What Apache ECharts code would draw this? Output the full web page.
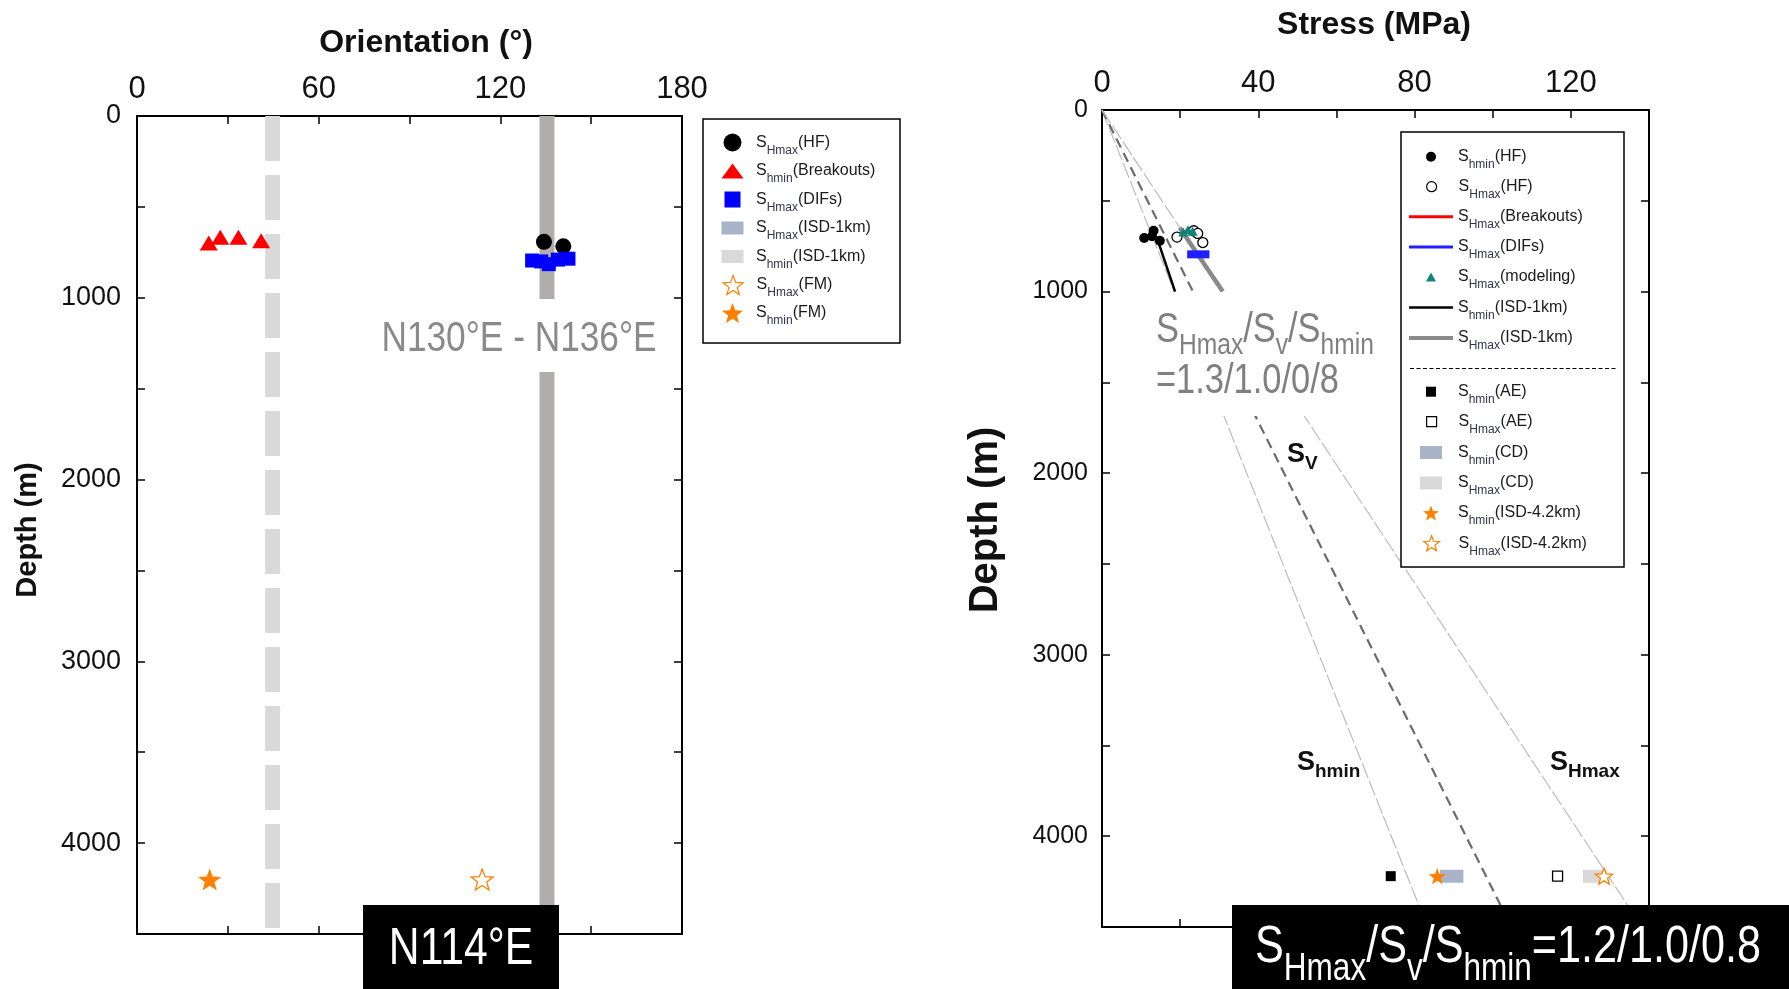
<!DOCTYPE html>
<html>
<head>
<meta charset="utf-8">
<title>Stress orientation and magnitude</title>
<script src="https://cdn.jsdelivr.net/npm/echarts@6/dist/echarts.min.js"></script>
<style>
html,body{margin:0;padding:0;background:#fff;}
#chart{width:1789px;height:989px;}
</style>
</head>
<body>
<div id="chart"></div>
<script>
// ================= DATA =================
// tick labels
const orientationTickLabels = [0, 60, 120, 180];
const stressTickLabels = [0, 40, 80, 120];
const depthTickLabels = [0, 1000, 2000, 3000, 4000];

// Left panel: [orientation (deg), depth (m)]
const oriShmaxHF = [[134.4, 692], [140.8, 717]];
const oriShminBreakouts = [[23.7, 698], [27.5, 667], [33.5, 667], [41.0, 686]];
const oriShmaxDIFs = [[130.5, 795], [133.5, 800], [136.0, 815], [139.0, 790], [142.5, 785]];
const oriShmaxISD1km = [[135.4, 0], [135.4, 4500]];
const oriShminISD1km = [[44.8, 0], [44.8, 4500]];
const oriShmaxFM = [[114.0, 4200]];
const oriShminFM = [[24.0, 4200]];

// Right panel: [stress (MPa), depth (m)]
const strShminHF = [[10.8, 705], [13.2, 665], [14.8, 720], [12.8, 695]];
const strShmaxHF = [[19.2, 700], [23.5, 665], [24.5, 680], [25.8, 730]];
const strShmaxBreakouts = [[18.8, 685], [19.6, 712]];
const strShmaxDIFs = [[21.8, 795], [27.5, 795]];
const strShmaxModeling = [[20.8, 672], [22.0, 660], [23.2, 668]];
const strShminISD1km = [[14.0, 700], [18.7, 1000]];
const strShmaxISD1km = [[19.9, 648], [30.9, 1000]];
const strShminAE = [[73.9, 4220]];
const strShmaxAE = [[116.6, 4220]];
const strShminCD = [[86.5, 4220], [92.5, 4220]];
const strShmaxCD = [[123.1, 4220], [129.1, 4220]];
const strShminISD42 = [[85.8, 4220]];
const strShmaxISD42 = [[128.5, 4220]];
const gradShmin = [[0, 0], [83.3, 4500]];
const gradSv = [[0, 0], [104.8, 4500]];
const gradShmax = [[0, 0], [138.2, 4500]];

// ================= STYLE HELPERS =================
const SANS = "'Liberation Sans', Arial, Helvetica, sans-serif";
const ORANGE = '#ff7f00';
const NARROW_SCALE = 0.82;   // emulate the condensed face of the original annotations

function starPath() {
  let d = '';
  for (let i = 0; i < 10; i++) {
    const a = -Math.PI / 2 + i * Math.PI / 5;
    const r = i % 2 === 0 ? 50 : 21;
    d += (i === 0 ? 'M' : 'L') + (r * Math.cos(a)).toFixed(2) + ',' + (r * Math.sin(a)).toFixed(2);
  }
  return 'path://' + d + 'Z';
}
const STAR = starPath();
const STAR_ASPECT = 1.051;
const TRI_L = 'path://M11,0L22,15L0,15Z';
const TRI_R = 'path://M5,0L10,9L0,9Z';
const SQ = 'path://M0,0L10,0L10,10L0,10Z';
const RECT = 'path://M0,0L22,0L22,13L0,13Z';
function linePath(h) { return 'path://M0,0L44,0L44,' + h + 'L0,' + h + 'Z'; }

function valueAxis(o) {
  return Object.assign({
    type: 'value',
    axisLine: {show: true, onZero: false, lineStyle: {color: '#000', width: 2}},
    axisTick: {show: true, inside: true, length: 8, lineStyle: {color: '#000', width: 1.5}},
    splitLine: {show: false},
    minorTick: {show: false},
    axisPointer: {show: false}
  }, o);
}
function tickLabel(list, size, margin) {
  return {show: true, margin: margin, fontFamily: SANS, fontSize: size, color: '#111',
    showMinLabel: true, showMaxLabel: true,
    formatter: v => list.indexOf(v) >= 0 ? String(v) : ''};
}

function lineS(name, g, data, color, width, dash, z) {
  return {type: 'line', name, xAxisIndex: g * 2, yAxisIndex: g * 2, data, symbol: 'none', showSymbol: false,
    lineStyle: {color, width, type: dash || 'solid', cap: 'butt'}, itemStyle: {color},
    silent: true, z: z || 2, animation: false};
}
function scatterS(name, g, data, symbol, size, color, border, z) {
  return {type: 'scatter', name, xAxisIndex: g * 2, yAxisIndex: g * 2, data, symbol, symbolSize: size,
    symbolKeepAspect: true,
    itemStyle: {color, borderColor: border || color, borderWidth: border ? 1.3 : 0, opacity: 1},
    silent: true, z: z || 3, animation: false};
}

// ================= LEGENDS =================
const legendRich = {
  s: {fontFamily: SANS, fontSize: 16, lineHeight: 22, height: 22, verticalAlign: 'bottom', color: '#1a1a1a'},
  b: {fontFamily: SANS, fontSize: 12, lineHeight: 6, height: 6, verticalAlign: 'bottom', color: '#33334a'}
};
function legendText(name) {
  const m = name.slice(2).match(/^S([A-Za-z]+)(\(.*\))$/);
  return '{s|S}{b|' + m[1] + '}{s|' + m[2] + '}';
}
function makeLegend(it, iconCX, cy, w) {
  return {
    show: true, selectedMode: false, orient: 'vertical', padding: 0,
    left: iconCX - it.visW / 2, top: cy - 11,
    itemWidth: w, itemHeight: it.h, itemGap: 0,
    data: [{name: it.name, icon: it.icon,
      itemStyle: {color: it.color, borderColor: it.border || it.color, borderWidth: it.border ? 1.2 : 0, opacity: 1}}],
    formatter: legendText,
    textStyle: {rich: legendRich}
  };
}
const leftLegendItems = [
  {name: 'L_SHmax(HF)', icon: 'circle', h: 18, visW: 18, color: '#000'},
  {name: 'L_Shmin(Breakouts)', icon: TRI_L, h: 15, visW: 22, color: '#ff0000'},
  {name: 'L_SHmax(DIFs)', icon: SQ, h: 16, visW: 16, color: '#0000ff'},
  {name: 'L_SHmax(ISD-1km)', icon: RECT, h: 13, visW: 22, color: '#a9b4c8'},
  {name: 'L_Shmin(ISD-1km)', icon: RECT, h: 13, visW: 22, color: '#d9d9d9'},
  {name: 'L_SHmax(FM)', icon: STAR, h: 19, visW: 19 * STAR_ASPECT, color: '#fff', border: ORANGE},
  {name: 'L_Shmin(FM)', icon: STAR, h: 20, visW: 20 * STAR_ASPECT, color: ORANGE}
];
const leftLegendY = [142.5, 171, 199.5, 228, 256.5, 285, 313];
const rightLegendItems = [
  {name: 'R_Shmin(HF)', icon: 'circle', h: 10, visW: 10, color: '#000'},
  {name: 'R_SHmax(HF)', icon: 'circle', h: 10, visW: 10, color: '#fff', border: '#000'},
  {name: 'R_SHmax(Breakouts)', icon: linePath(3), h: 3, visW: 44, color: '#ff0000'},
  {name: 'R_SHmax(DIFs)', icon: linePath(3), h: 3, visW: 44, color: '#1f1fff'},
  {name: 'R_SHmax(modeling)', icon: TRI_R, h: 9, visW: 10, color: '#12837b'},
  {name: 'R_Shmin(ISD-1km)', icon: linePath(2.5), h: 2.5, visW: 44, color: '#000'},
  {name: 'R_SHmax(ISD-1km)', icon: linePath(4), h: 4, visW: 44, color: '#8a8a8a'},
  {name: 'R_Shmin(AE)', icon: SQ, h: 10, visW: 10, color: '#000'},
  {name: 'R_SHmax(AE)', icon: SQ, h: 10, visW: 10, color: '#fff', border: '#000'},
  {name: 'R_Shmin(CD)', icon: RECT, h: 13, visW: 22, color: '#a9b4c8'},
  {name: 'R_SHmax(CD)', icon: RECT, h: 13, visW: 22, color: '#d9d9d9'},
  {name: 'R_Shmin(ISD-4.2km)', icon: STAR, h: 15, visW: 15 * STAR_ASPECT, color: ORANGE},
  {name: 'R_SHmax(ISD-4.2km)', icon: STAR, h: 15, visW: 15 * STAR_ASPECT, color: '#fff', border: ORANGE}
];
const rightLegendY = [156.7, 186.7, 216.7, 247, 277, 307.5, 338, 391.7, 421.7, 452.5, 483, 513, 543.3];

const legends = [];
leftLegendItems.forEach((it, i) => legends.push(makeLegend(it, 732.5, leftLegendY[i], 37)));
rightLegendItems.forEach((it, i) => legends.push(makeLegend(it, 1431, rightLegendY[i], 44)));

// ================= SERIES =================
const series = [
  // left panel
  lineS('L_Shmin(ISD-1km)', 0, oriShminISD1km, '#d9d9d9', 15, [45, 14], 1),
  lineS('L_SHmax(ISD-1km)', 0, oriShmaxISD1km, '#b1adad', 15, 'solid', 1),
  scatterS('L_Shmin(Breakouts)', 0, oriShminBreakouts, 'triangle', [18, 15], '#ff0000'),
  scatterS('L_SHmax(HF)', 0, oriShmaxHF, 'circle', 16, '#000'),
  scatterS('L_SHmax(DIFs)', 0, oriShmaxDIFs, 'rect', 14, '#0000ff'),
  scatterS('L_SHmax(FM)', 0, oriShmaxFM, STAR, 22, '#fff', ORANGE),
  scatterS('L_Shmin(FM)', 0, oriShminFM, STAR, 23, ORANGE),
  // right panel
  lineS('R_grad_Shmin', 1, gradShmin, '#bdbdbd', 1.2, [16, 3], 1),
  lineS('R_grad_Sv', 1, gradSv, '#6b6b6b', 2.2, [10, 6], 1),
  lineS('R_grad_SHmax', 1, gradShmax, '#bdbdbd', 1.2, [16, 3], 1),
  lineS('R_Shmin(ISD-1km)', 1, strShminISD1km, '#000', 2.5),
  scatterS('R_Shmin(HF)', 1, strShminHF, 'circle', 10, '#000'),
  scatterS('R_SHmax(HF)', 1, strShmaxHF, 'circle', 10, '#fff', '#000'),
  lineS('R_SHmax(Breakouts)', 1, strShmaxBreakouts, '#ff0000', 5, 'solid', 3),
  scatterS('R_SHmax(modeling)', 1, strShmaxModeling, 'triangle', [10, 9], '#12837b'),
  lineS('R_SHmax(ISD-1km)', 1, strShmaxISD1km, '#8a8a8a', 4.5, 'solid', 3),
  lineS('R_SHmax(DIFs)', 1, strShmaxDIFs, '#1f1fff', 8, 'solid', 3),
  scatterS('R_Shmin(AE)', 1, strShminAE, 'rect', 10, '#000'),
  scatterS('R_SHmax(AE)', 1, strShmaxAE, 'rect', 10, '#fff', '#000'),
  lineS('R_Shmin(CD)', 1, strShminCD, '#a9b4c8', 13, 'solid', 3),
  lineS('R_SHmax(CD)', 1, strShmaxCD, '#d9d9d9', 13, 'solid', 3),
  scatterS('R_Shmin(ISD-4.2km)', 1, strShminISD42, STAR, 17, ORANGE, null, 4),
  scatterS('R_SHmax(ISD-4.2km)', 1, strShmaxISD42, STAR, 17, '#fff', ORANGE, 4)
];

// ================= ANNOTATIONS =================
function txt(x, y, style, z, extra) {
  return Object.assign({type: 'text', x, y, z: z || 20, silent: true, style}, extra || {});
}
function subRich(fm, fs, hm, hs, color, weight) {
  return {
    m: {fontFamily: SANS, fontWeight: weight || 'normal', fontSize: fm, lineHeight: hm, height: hm, verticalAlign: 'bottom', fill: color},
    b: {fontFamily: SANS, fontWeight: weight || 'normal', fontSize: fs, lineHeight: hs, height: hs, verticalAlign: 'bottom', fill: color}
  };
}
const boldSub = subRich(27, 19, 32, 14, '#111', 'bold');
const graySub = subRich(42, 30, 48, 16, '#808080');
const whiteSub = subRich(52, 38, 60, 16, '#fff');
const LT = {align: 'left', verticalAlign: 'top', textAlign: 'left', textVerticalAlign: 'top'};
const CM = {align: 'center', verticalAlign: 'middle', textAlign: 'center', textVerticalAlign: 'middle'};

const graphics = [
  // legend frames
  {type: 'rect', z: 3, silent: true, shape: {x: 703, y: 119, width: 197, height: 224}, style: {fill: '#fff', stroke: '#000', lineWidth: 1.5}},
  {type: 'rect', z: 3, silent: true, shape: {x: 1401, y: 132, width: 223, height: 435}, style: {fill: '#fff', stroke: '#000', lineWidth: 1.5}},
  {type: 'line', z: 5, silent: true, shape: {x1: 1410, y1: 368.5, x2: 1617, y2: 368.5}, style: {stroke: '#000', lineWidth: 1.2, lineDash: [4, 2.5]}},
  // axis titles
  txt(426, 43, Object.assign({text: 'Orientation (°)', fontFamily: SANS, fontWeight: 'bold', fontSize: 32, fill: '#111'}, CM)),
  txt(1374, 25, Object.assign({text: 'Stress (MPa)', fontFamily: SANS, fontWeight: 'bold', fontSize: 32, fill: '#111'}, CM)),
  txt(28, 530, Object.assign({text: 'Depth (m)', fontFamily: SANS, fontWeight: 'bold', fontSize: 29, fill: '#111'}, CM), 20, {rotation: Math.PI / 2}),
  txt(986, 520, Object.assign({text: 'Depth (m)', fontFamily: SANS, fontWeight: 'bold', fontSize: 40, fill: '#111'}, CM), 20, {rotation: Math.PI / 2}),
  // left annotation with white mask
  {type: 'rect', z: 5, silent: true, shape: {x: 375, y: 299, width: 287, height: 73}, style: {fill: '#fff'}},
  txt(519, 339, Object.assign({text: 'N130°E - N136°E', fontFamily: SANS, fontSize: 43, fill: '#8a8a8a'}, CM), 6, {scaleX: NARROW_SCALE}),
  // right annotation with white mask
  {type: 'rect', z: 5, silent: true, shape: {x: 1140, y: 292, width: 258, height: 124}, style: {fill: '#fff'}},
  txt(1156, 306, Object.assign({text: '{m|S}{b|Hmax}{m|/S}{b|v}{m|/S}{b|hmin}', rich: graySub}, LT), 6, {scaleX: NARROW_SCALE}),
  txt(1156, 357, Object.assign({text: '{m|=1.3/1.0/0/8}', rich: graySub}, LT), 6, {scaleX: NARROW_SCALE}),
  // gradient labels
  txt(1287, 439, Object.assign({text: '{m|S}{b|V}', rich: boldSub}, LT), 6),
  txt(1297, 747, Object.assign({text: '{m|S}{b|hmin}', rich: boldSub}, LT), 6),
  txt(1550, 747, Object.assign({text: '{m|S}{b|Hmax}', rich: boldSub}, LT), 6),
  // black boxes
  {type: 'rect', z: 30, silent: true, shape: {x: 363, y: 905, width: 196, height: 84}, style: {fill: '#000'}},
  txt(461, 950, Object.assign({text: 'N114°E', fontFamily: SANS, fontSize: 52, fill: '#fff'}, CM), 31, {scaleX: NARROW_SCALE}),
  {type: 'rect', z: 30, silent: true, shape: {x: 1232, y: 905, width: 557, height: 84}, style: {fill: '#000'}},
  txt(1255, 918, Object.assign({text: '{m|S}{b|Hmax}{m|/S}{b|v}{m|/S}{b|hmin}{m|=1.2/1.0/0.8}', rich: whiteSub}, LT), 31, {scaleX: 0.83})
];

// ================= CHART =================
const chart = echarts.init(document.getElementById('chart'), null, {renderer: 'canvas'});
chart.setOption({
  animation: false,
  backgroundColor: '#fff',
  grid: [
    {left: 137, top: 116, width: 545, height: 818, outerBoundsMode: 'none', containLabel: false},
    {left: 1102, top: 110, width: 547, height: 817, outerBoundsMode: 'none', containLabel: false}
  ],
  xAxis: [
    valueAxis({gridIndex: 0, position: 'top', min: 0, max: 180, interval: 30, axisLabel: tickLabel(orientationTickLabels, 31, 11)}),
    valueAxis({gridIndex: 0, position: 'bottom', min: 0, max: 180, interval: 30, axisLabel: {show: false}}),
    valueAxis({gridIndex: 1, position: 'top', min: 0, max: 140, interval: 20, axisLabel: tickLabel(stressTickLabels, 31, 11)}),
    valueAxis({gridIndex: 1, position: 'bottom', min: 0, max: 140, interval: 20, axisLabel: {show: false}})
  ],
  yAxis: [
    valueAxis({gridIndex: 0, position: 'left', inverse: true, min: 0, max: 4500, interval: 500, axisLabel: tickLabel(depthTickLabels, 27, 16)}),
    valueAxis({gridIndex: 0, position: 'right', inverse: true, min: 0, max: 4500, interval: 500, axisLabel: {show: false}}),
    valueAxis({gridIndex: 1, position: 'left', inverse: true, min: 0, max: 4500, interval: 500, axisLabel: tickLabel(depthTickLabels, 25, 14)}),
    valueAxis({gridIndex: 1, position: 'right', inverse: true, min: 0, max: 4500, interval: 500, axisLabel: {show: false}})
  ],
  legend: legends,
  series: series,
  graphic: {elements: graphics}
});
</script>
</body>
</html>
